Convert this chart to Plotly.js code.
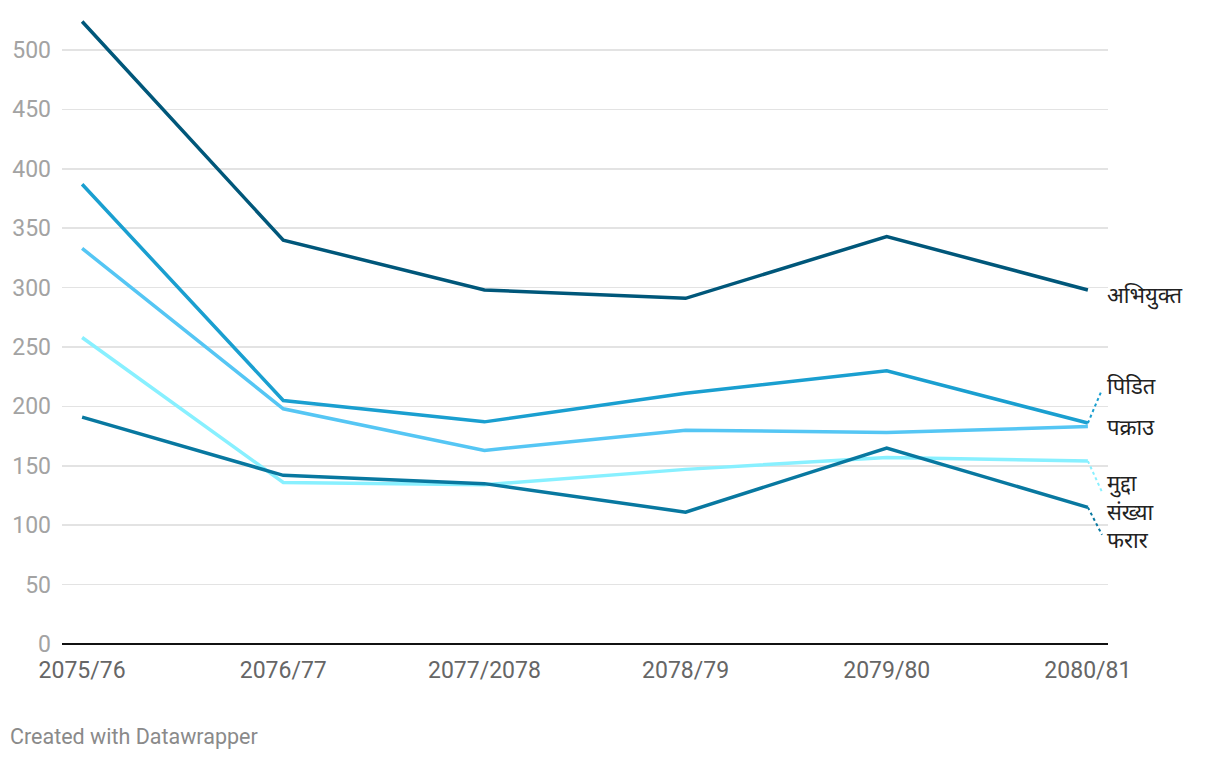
<!DOCTYPE html>
<html>
<head>
<meta charset="utf-8">
<script src="https://cdn.plot.ly/plotly-3.0.1.min.js"></script>
<style>
  body { margin: 0; background: #fff; }
  #plot { width: 1220px; height: 760px; }
</style>
</head>
<body>
<div id="plot"></div>
<script>
// years on the x axis
var years = ["2075/76", "2076/77", "2077/2078", "2078/79", "2079/80", "2080/81"];

// series values
var abhiyukta = [524, 340, 298, 291, 343, 298];
var pidit = [387, 205, 187, 211, 230, 186];
var pakrau = [333, 198, 163, 180, 178, 183];
var muddaSankhya = [258, 136, 134, 147, 157, 154];
var pharar = [191, 142, 135, 111, 165, 115];

var names = ["अभियुक्त", "पिडित", "पक्राउ", "मुद्दा<br>संख्या", "फरार"];
var colors = ["#00577a", "#1a9fd0", "#55c6f4", "#88f0ff", "#0878a0"];
var series = [abhiyukta, pidit, pakrau, muddaSankhya, pharar];
// where each end label sits (y value), and whether it needs a dotted leader
var labelY = [294, 218, 183.5, 124, 88];
var leader = [false, true, false, true, true];

var xs = years.map(function (d, i) { return i; });

// draw back to front so the dark line ends on top like the original
var order = [3, 2, 1, 4, 0];
var data = order.map(function (k) {
  return {
    x: xs,
    y: series[k],
    type: "scatter",
    mode: "lines",
    line: { color: colors[k], width: 3.5 },
    hoverinfo: "skip",
    showlegend: false
  };
});

var annotations = names.map(function (n, k) {
  return {
    text: n,
    xref: "paper", x: 1, xanchor: "left", xshift: -2,
    yref: "y", y: labelY[k], yanchor: "middle",
    showarrow: false,
    align: "left",
    borderpad: 0,
    font: { family: "Noto Sans, Roboto, sans-serif", size: 22, color: "#222" }
  };
});

annotations.push({
  text: "Created with Datawrapper",
  xref: "paper", yref: "paper",
  x: 0, y: 0, xshift: -54, yshift: -92,
  xanchor: "left", yanchor: "middle",
  showarrow: false,
  font: { family: "Roboto, sans-serif", size: 21.5, color: "#8a8a8a" }
});

var shapes = [];
series.forEach(function (vals, k) {
  if (!leader[k]) return;
  var last = vals[vals.length - 1];
  var dir = labelY[k] > last ? 1 : -1;
  shapes.push({
    type: "line", xref: "x", yref: "y",
    x0: xs.length - 1, y0: last,
    x1: xs.length - 1 + 0.07, y1: labelY[k] - dir * 4,
    line: { color: colors[k], width: 2, dash: "dot" }
  });
});

var layout = {
  width: 1220,
  height: 760,
  margin: { l: 62, r: 112, t: 10, b: 116 },
  paper_bgcolor: "#fff",
  plot_bgcolor: "#fff",
  font: { family: "Roboto, sans-serif" },
  xaxis: {
    range: [-0.1, 5.1],
    tickmode: "array",
    tickvals: xs,
    ticktext: years,
    showgrid: false,
    zeroline: false,
    showline: false,
    ticks: "",
    tickfont: { size: 23, color: "#666" },
    ticklabelstandoff: 10
  },
  yaxis: {
    range: [0, 533.7],
    tickvals: [0, 50, 100, 150, 200, 250, 300, 350, 400, 450, 500],
    showgrid: true,
    gridcolor: "#e3e3e3",
    gridwidth: 1.5,
    zeroline: true,
    zerolinecolor: "#111",
    zerolinewidth: 2,
    ticks: "",
    tickfont: { size: 23, color: "#a3a3a3" },
    ticklabelstandoff: 10
  },
  annotations: annotations,
  shapes: shapes
};

Plotly.newPlot("plot", data, layout, { displayModeBar: false, staticPlot: true });
</script>
</body>
</html>
